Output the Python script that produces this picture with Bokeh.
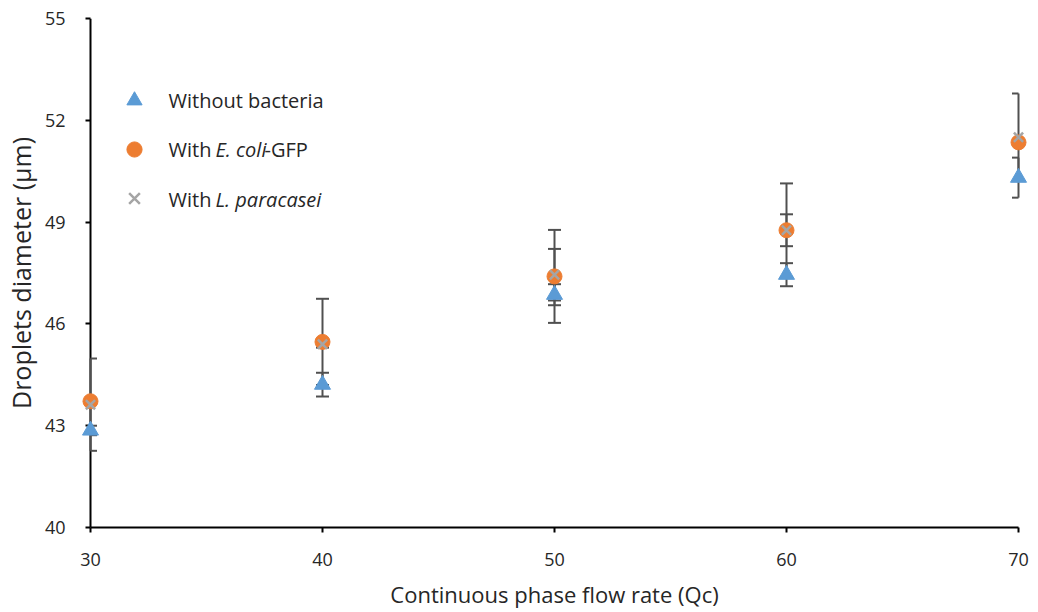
import numpy as np
from bokeh.plotting import figure
from bokeh.models import FixedTicker, Legend, LegendItem, Label, Span
from bokeh.embed import file_html
from bokeh.resources import INLINE

# Continuous phase flow rate (Qc) and mean droplet diameters (µm)
flow_rate = [30, 40, 50, 60, 70]
without_bacteria = [42.86, 44.21, 46.86, 47.45, 50.31]
with_ecoli = [43.72, 45.47, 47.40, 48.76, 51.35]
with_lpara = [43.62, 45.40, 47.45, 48.76, 51.50]

# Standard deviations (error bars)
err_without = [0.14, 0.35, 0.31, 0.34, 0.59]
err_ecoli = [0.08, 1.27, 1.37, 1.38, 0.08]
err_lpara = [1.36, 0.10, 0.76, 0.47, 1.29]

x_ticks = [30, 40, 50, 60, 70]
y_ticks = [40, 43, 46, 49, 52, 55]

FONT = "Open Sans"
TEXT = "#262626"

x_lo, x_hi = min(x_ticks), max(x_ticks)
pad = 0.5172   # small margin so the edge markers are not cut by the frame
PAD_PX = 12    # the same margin in pixels

FRAME_LEFT, FRAME_BOTTOM = 78, 527

p = figure(width=1038, height=612, output_backend="svg", toolbar_location=None,
           x_range=(x_lo - pad, x_hi + pad), y_range=(40, 55),
           min_border_left=FRAME_LEFT, min_border_right=8,
           min_border_top=18, min_border_bottom=612 - FRAME_BOTTOM)
p.xgrid.visible = False
p.ygrid.visible = False
p.outline_line_color = None
p.background_fill_color = "white"
p.border_fill_color = "white"

for ax in (p.xaxis[0], p.yaxis[0]):
    ax.axis_line_color = "black"
    ax.axis_line_width = 2
    ax.major_tick_line_color = "black"
    ax.major_tick_line_width = 2
    ax.major_tick_out = 5
    ax.major_tick_in = 0
    ax.minor_tick_out = 0
    ax.minor_tick_in = 0
    ax.major_label_text_font = FONT
    ax.major_label_text_font_size = "18px"
    ax.major_label_text_color = TEXT
    ax.axis_label_text_font = FONT
    ax.axis_label_text_font_style = "normal"
    ax.axis_label_text_color = TEXT

p.xaxis.axis_label_text_font_size = "22px"
p.yaxis.axis_label_text_font_size = "25px"

p.xaxis.ticker = FixedTicker(ticks=x_ticks)
p.yaxis.ticker = FixedTicker(ticks=y_ticks)
p.xaxis.bounds = (x_lo, x_hi)
p.xaxis.axis_label = "Continuous phase flow rate (Qc)"
p.yaxis.axis_label = "Droplets diameter (µm)"
p.xaxis.major_label_standoff = 20
p.xaxis.axis_label_standoff = 10

# The y axis sits at x = 30, a few pixels inside the frame edge:
# its rule is a Span and its ticks are shifted inwards.
p.yaxis.axis_line_color = None
p.yaxis.major_tick_out = 5 - PAD_PX
p.yaxis.major_tick_in = PAD_PX
p.yaxis.major_label_standoff = 13
p.yaxis.axis_label_standoff = 4
p.add_layout(Span(location=x_lo, dimension="height", line_color="black", line_width=2))

ERR_COLOR = "#505050"
cap = 0.28  # half width of error bar caps, in x data units
xs = np.array(flow_rate, dtype=float)
cap_x0 = np.clip(xs - cap, x_lo, x_hi)
cap_x1 = np.clip(xs + cap, x_lo, x_hi)


def error_bars(vals, errs):
    v = np.array(vals)
    e = np.array(errs)
    p.segment(x0=xs, y0=v - e, x1=xs, y1=v + e, line_color=ERR_COLOR,
              line_width=2, level="overlay")
    for end in (v - e, v + e):
        p.segment(x0=cap_x0, y0=end, x1=cap_x1, y1=end,
                  line_color=ERR_COLOR, line_width=2, level="overlay")


error_bars(without_bacteria, err_without)
error_bars(with_ecoli, err_ecoli)
error_bars(with_lpara, err_lpara)

r_tri = p.scatter(flow_rate, without_bacteria, marker="triangle", size=16,
                  fill_color="#5B9BD5", line_color="#5B9BD5", level="overlay")
r_circ = p.scatter(flow_rate, with_ecoli, marker="circle", size=15,
                   fill_color="#ED7D31", line_color="#ED7D31", level="overlay")
r_x = p.scatter(flow_rate, with_lpara, marker="x", size=13,
                line_color="#A5A5A5", line_width=2.5, level="overlay")

legend = Legend(items=[LegendItem(label=" ", renderers=[r_tri]),
                       LegendItem(label=" ", renderers=[r_circ]),
                       LegendItem(label=" ", renderers=[r_x])],
                location=(37, 310), orientation="vertical",
                glyph_width=38, glyph_height=38, label_height=38,
                label_width=1, spacing=11, padding=0, margin=0,
                border_line_color=None, background_fill_alpha=0)
p.add_layout(legend, "center")

# Legend texts with italic species names (x, y in page pixels)
label_rows = [
    [("Without bacteria", "normal", 168)],
    [("With ", "normal", 168), ("E. coli", "italic", 215), ("-GFP", "normal", 264)],
    [("With ", "normal", 168), ("L. paracasei", "italic", 215)],
]
row_y = [100, 149, 199]
for row, yy in zip(label_rows, row_y):
    for txt, style, xx in row:
        p.add_layout(Label(x=xx - FRAME_LEFT, y=FRAME_BOTTOM - yy,
                           x_units="screen", y_units="screen", text=txt,
                           text_font=FONT, text_font_size="20px", text_font_style=style,
                           text_color=TEXT, text_baseline="middle", text_align="left"))

open("out.html", "w").write(file_html(p, INLINE))
